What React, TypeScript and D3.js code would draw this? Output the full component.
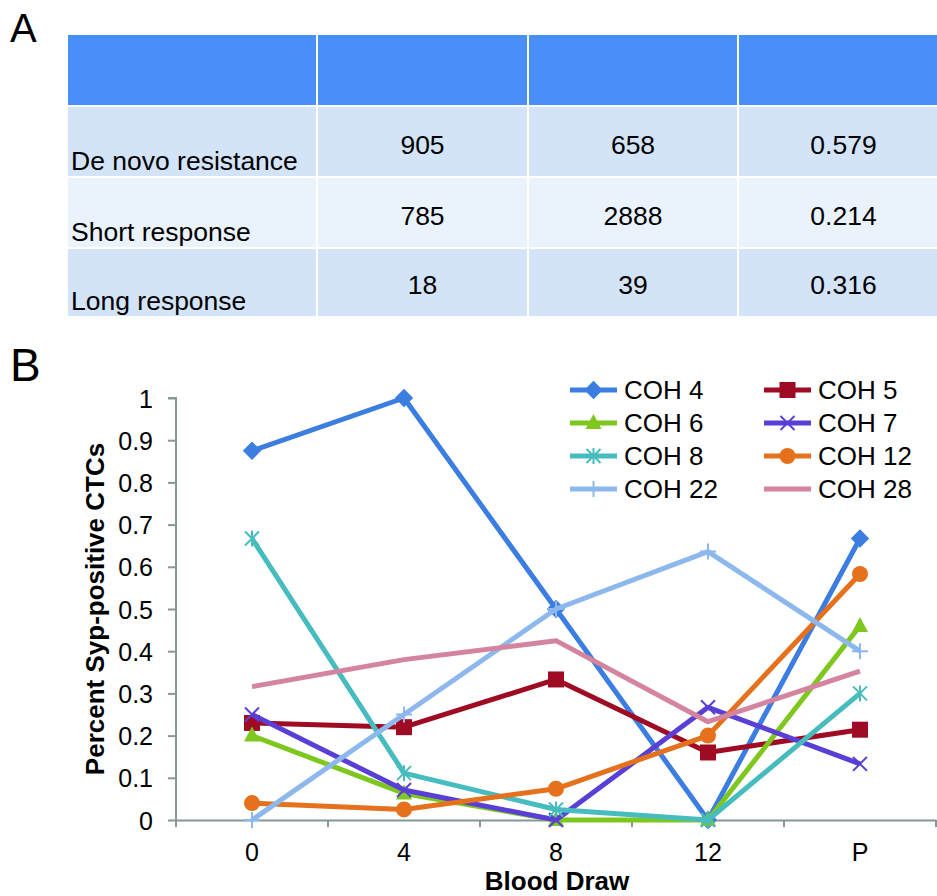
import React, { useEffect, useRef } from 'react';
import * as d3 from 'd3';

// table (panel A)
const tableRows = ['De novo resistance', 'Short response', 'Long response'];
const tableColB = ['905', '785', '18'];
const tableColC = ['658', '2888', '39'];
const tableColD = ['0.579', '0.214', '0.316'];

// line chart (panel B)
const categories = ['0', '4', '8', '12', 'P'];
const yTicks = [0, 0.1, 0.2, 0.3, 0.4, 0.5, 0.6, 0.7, 0.8, 0.9, 1];
const seriesNames = ['COH 4', 'COH 5', 'COH 6', 'COH 7', 'COH 8', 'COH 12', 'COH 22', 'COH 28'];
const coh4 = [0.875, 1, 0.5, 0, 0.667];
const coh5 = [0.23, 0.22, 0.333, 0.16, 0.214];
const coh6 = [0.2, 0.063, 0, 0, 0.46];
const coh7 = [0.25, 0.071, 0, 0.267, 0.133];
const coh8 = [0.667, 0.111, 0.025, 0, 0.3];
const coh12 = [0.04, 0.025, 0.074, 0.2, 0.583];
const coh22 = [0, 0.25, 0.5, 0.636, 0.4];
const coh28 = [0.316, 0.38, 0.425, 0.233, 0.353];

const seriesValues = [coh4, coh5, coh6, coh7, coh8, coh12, coh22, coh28];
const seriesColors = ['#3b7de0', '#a00b24', '#7dc71f', '#5a3fd6', '#47bcbe', '#e5711d', '#8db8ee', '#d4849e'];
const seriesMarkers = ['diamond', 'square', 'triangle', 'x', 'star', 'circle', 'plus', 'none'];

const FONT = '"Liberation Sans", Arial, sans-serif';

const drawMarker = (g, type, x, y, color) => {
  if (type === 'diamond') {
    g.append('rect').attr('x', x - 6.5).attr('y', y - 6.5).attr('width', 13).attr('height', 13)
      .attr('transform', `rotate(45, ${x}, ${y})`).attr('fill', color);
  } else if (type === 'square') {
    g.append('rect').attr('x', x - 8).attr('y', y - 8).attr('width', 16).attr('height', 16).attr('fill', color);
  } else if (type === 'triangle') {
    g.append('path').attr('d', `M${x},${y - 9}L${x + 8},${y + 6}L${x - 8},${y + 6}Z`).attr('fill', color);
  } else if (type === 'circle') {
    g.append('circle').attr('cx', x).attr('cy', y).attr('r', 8).attr('fill', color);
  } else if (type === 'x') {
    g.append('path').attr('d', `M${x - 7},${y - 7}L${x + 7},${y + 7}M${x - 7},${y + 7}L${x + 7},${y - 7}`)
      .attr('stroke', color).attr('stroke-width', 2);
  } else if (type === 'star') {
    g.append('path').attr('d', `M${x - 7},${y - 7}L${x + 7},${y + 7}M${x - 7},${y + 7}L${x + 7},${y - 7}M${x},${y - 8}L${x},${y + 8}`)
      .attr('stroke', color).attr('stroke-width', 2);
  } else if (type === 'plus') {
    g.append('path').attr('d', `M${x},${y - 8}L${x},${y + 8}M${x - 8},${y}L${x + 8},${y}`)
      .attr('stroke', color).attr('stroke-width', 2);
  }
};

const App = () => {
  const svgRef = useRef(null);

  useEffect(() => {
    const svg = d3.select(svgRef.current);
    svg.selectAll('*').remove();

    // ---- panel A : table ----
    const colEdges = [68, 318, 529, 739, 950];
    const rowEdges = [35, 107, 178, 249, 318];
    const rowFill = ['#4a8ef7', '#d3e3f8', '#eaf2fc', '#d3e3f8'];
    const table = svg.append('g');
    for (let r = 0; r < 4; r++) {
      for (let c = 0; c < 4; c++) {
        table.append('rect')
          .attr('x', colEdges[c])
          .attr('y', rowEdges[r])
          .attr('width', colEdges[c + 1] - colEdges[c] - 2)
          .attr('height', rowEdges[r + 1] - rowEdges[r] - 2)
          .attr('fill', rowFill[r]);
      }
    }
    tableRows.forEach((label, i) => {
      const bottom = rowEdges[i + 2] - 2;
      table.append('text').attr('x', 71).attr('y', bottom - 6)
        .attr('font-size', 26.5).attr('font-family', FONT).text(label);
      [tableColB, tableColC, tableColD].forEach((col, j) => {
        table.append('text')
          .attr('x', (colEdges[j + 1] + colEdges[j + 2] - 2) / 2)
          .attr('y', bottom - 22)
          .attr('text-anchor', 'middle')
          .attr('font-size', 26.5).attr('font-family', FONT)
          .text(col[i]);
      });
    });

    svg.append('text').attr('x', 10).attr('y', 42).attr('font-size', 40).attr('font-family', FONT).text('A');
    svg.append('text').attr('x', 10).attr('y', 381).attr('font-size', 46).attr('font-family', FONT).text('B');

    // ---- panel B : line chart ----
    const x = d3.scaleBand().domain(categories).range([176, 936]);
    const y = d3.scaleLinear().domain([0, 1]).range([820, 398]);
    const axisColor = '#869797';

    const yAxis = svg.append('g')
      .attr('transform', 'translate(176,0)')
      .call(d3.axisLeft(y).tickValues(yTicks).tickSize(8).tickPadding(15).tickFormat(d => String(+(+d).toFixed(1))));
    yAxis.select('.domain').attr('stroke', axisColor).attr('stroke-width', 2).attr('d', `M0,${y(0)}V${y(1)}H-8`);
    yAxis.selectAll('.tick line').attr('stroke', axisColor).attr('stroke-width', 2);
    yAxis.selectAll('.tick text').attr('font-size', 25).attr('font-family', FONT).attr('fill', '#000').attr('dy', '0.36em');

    const xAxis = svg.append('g')
      .attr('transform', `translate(0,${y(0)})`)
      .call(d3.axisBottom(x).tickSize(0).tickPadding(23));
    xAxis.select('.domain').attr('stroke', axisColor).attr('stroke-width', 2);
    xAxis.selectAll('.tick text').attr('font-size', 25).attr('font-family', FONT).attr('fill', '#000').attr('dy', '0.71em');
    const edges = [176, ...categories.map(c => x(c) + x.bandwidth())];
    xAxis.selectAll('.edge').data(edges).enter().append('line')
      .attr('x1', d => d).attr('x2', d => d).attr('y1', 0).attr('y2', 7)
      .attr('stroke', axisColor).attr('stroke-width', 2);

    svg.append('text')
      .attr('transform', `translate(104,${(y(0) + y(1)) / 2}) rotate(-90)`)
      .attr('text-anchor', 'middle').attr('font-size', 26).attr('font-weight', 'bold').attr('font-family', FONT)
      .text('Percent Syp-positive CTCs');
    svg.append('text')
      .attr('x', 557).attr('y', 890)
      .attr('text-anchor', 'middle').attr('font-size', 26).attr('font-weight', 'bold').attr('font-family', FONT)
      .text('Blood Draw');

    const line = d3.line().x((d, i) => x(categories[i]) + x.bandwidth() / 2).y(d => y(d));
    const plot = svg.append('g');
    seriesValues.forEach((vals, s) => {
      plot.append('path').datum(vals).attr('d', line).attr('fill', 'none')
        .attr('stroke', seriesColors[s]).attr('stroke-width', 5).attr('stroke-linejoin', 'round');
      vals.forEach((v, i) => drawMarker(plot, seriesMarkers[s], x(categories[i]) + x.bandwidth() / 2, y(v), seriesColors[s]));
    });

    // legend
    const legend = svg.append('g');
    seriesNames.forEach((name, s) => {
      const lx = s % 2 === 0 ? 570 : 764;
      const ly = 390 + Math.floor(s / 2) * 33;
      legend.append('line').attr('x1', lx).attr('x2', lx + 47).attr('y1', ly).attr('y2', ly)
        .attr('stroke', seriesColors[s]).attr('stroke-width', 5);
      drawMarker(legend, seriesMarkers[s], lx + 23.5, ly, seriesColors[s]);
      legend.append('text').attr('x', lx + 54).attr('y', ly + 9)
        .attr('font-size', 26).attr('font-family', FONT).text(name);
    });
  }, []);

  return (
    <svg ref={svgRef} width={937} height={896}
      style={{ position: 'absolute', left: 0, top: 0, background: '#fff' }} />
  );
};

export default App;
